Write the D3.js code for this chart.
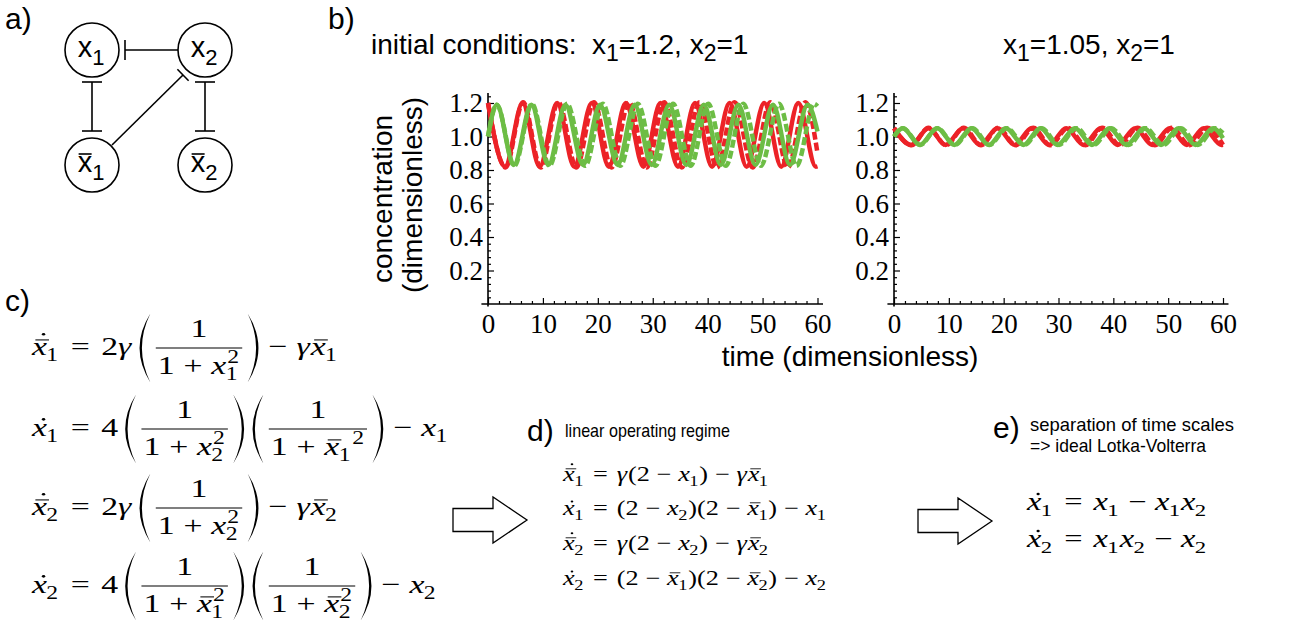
<!DOCTYPE html>
<html>
<head>
<meta charset="utf-8">
<script src="https://cdn.jsdelivr.net/npm/d3@7"></script>
<style>body{margin:0;background:#fff}</style>
</head>
<body>
<svg id="fig" width="1290" height="622"></svg>
<script>
// ---- values ----
var timeTicks = [0, 10, 20, 30, 40, 50, 60];
var concTicks = [0.2, 0.4, 0.6, 0.8, 1.0, 1.2];

// left panel, x1=1.2, x2=1 : extrema of each trace [time, concentration]
var redA = [[0,1.2],[3.1,0.82],[6.3,1.2],[9.4,0.82],[12.6,1.2],[15.7,0.82],[18.9,1.2],[22.0,0.82],[25.1,1.2],[28.3,0.82],[31.4,1.2],[34.6,0.82],[37.7,1.2],[40.8,0.82],[44.0,1.2],[47.1,0.82],[50.3,1.2],[53.4,0.82],[56.5,1.2],[59.7,0.82],[60,0.822]];
var redDashA = [[0,1.2],[3.2,0.815],[6.4,1.205],[9.6,0.815],[12.8,1.205],[16.1,0.815],[19.3,1.205],[22.5,0.815],[25.7,1.205],[28.9,0.815],[32.1,1.205],[35.3,0.815],[38.5,1.205],[41.7,0.815],[44.9,1.205],[48.2,0.815],[51.4,1.205],[54.6,0.815],[57.8,1.205],[60,0.9]];
var greenA = [[0,1.0],[1.6,1.19],[4.7,0.83],[7.9,1.19],[11.0,0.83],[14.1,1.19],[17.3,0.83],[20.4,1.19],[23.6,0.83],[26.7,1.19],[29.8,0.83],[33.0,1.19],[36.1,0.83],[39.3,1.19],[42.4,0.83],[45.6,1.19],[48.7,0.83],[51.9,1.19],[55.0,0.83],[58.2,1.19],[60,1.03]];
var greenDashA = [[0,1.0],[1.6,1.19],[4.8,0.825],[8.0,1.195],[11.2,0.825],[14.4,1.195],[17.7,0.825],[20.9,1.195],[24.1,0.825],[27.3,1.195],[30.5,0.825],[33.7,1.195],[36.9,0.825],[40.1,1.195],[43.3,0.825],[46.5,1.195],[49.7,0.825],[53.0,1.195],[56.2,0.825],[59.4,1.195],[60,1.18]];

// right panel, x1=1.05, x2=1
var redB = [[0,1.05],[3.1,0.95],[6.3,1.05],[9.4,0.95],[12.6,1.05],[15.7,0.95],[18.9,1.05],[22.0,0.95],[25.1,1.05],[28.3,0.95],[31.4,1.05],[34.6,0.95],[37.7,1.05],[40.8,0.95],[44.0,1.05],[47.1,0.95],[50.3,1.05],[53.4,0.95],[56.5,1.05],[59.7,0.95],[60,0.951]];
var redDashB = [[0,1.05],[3.2,0.948],[6.3,1.052],[9.5,0.948],[12.7,1.052],[15.9,0.948],[19.0,1.052],[22.2,0.948],[25.4,1.052],[28.5,0.948],[31.7,1.052],[34.9,0.948],[38.0,1.052],[41.2,0.948],[44.4,1.052],[47.6,0.948],[50.7,1.052],[53.9,0.948],[57.1,1.052],[60,0.95]];
var greenB = [[0,1.0],[1.6,1.05],[4.7,0.95],[7.9,1.05],[11.0,0.95],[14.1,1.05],[17.3,0.95],[20.4,1.05],[23.6,0.95],[26.7,1.05],[29.8,0.95],[33.0,1.05],[36.1,0.95],[39.3,1.05],[42.4,0.95],[45.6,1.05],[48.7,0.95],[51.9,1.05],[55.0,0.95],[58.2,1.05],[60,0.99]];
var greenDashB = [[0,1.0],[1.6,1.05],[4.8,0.95],[7.9,1.05],[11.1,0.95],[14.3,1.05],[17.4,0.95],[20.6,1.05],[23.8,0.95],[26.9,1.05],[30.1,0.95],[33.3,1.05],[36.4,0.95],[39.6,1.05],[42.8,0.95],[45.9,1.05],[49.1,0.95],[52.3,1.05],[55.4,0.95],[58.6,1.05],[60,1.02]];

var RED = "#ec2227", GREEN = "#6dbd45";
var SANS = "'Liberation Sans', Arial, Helvetica, sans-serif";
var MF = "'Liberation Serif', 'Times New Roman', serif";

var svg = d3.select("#fig");

// ---------- b) time courses ----------
function panel(x0, x1, traces) {
    var xs = d3.scaleLinear().domain([0, 60]).range([x0, x1]);
    var ys = d3.scaleLinear().domain([0, 1.2]).range([304, 103]);
    var g = svg.append("g");
    var minorT = d3.range(0, 61, 2).filter(d => d % 10 != 0);
    var minorC = d3.range(1, 32).filter(i => i % 5 != 0).map(i => i * 0.04);

    g.append("g").attr("transform", "translate(0,304)")
     .call(d3.axisBottom(xs).tickValues(minorT).tickSize(-3).tickFormat(""))
     .call(a => a.select(".domain").remove());
    g.append("g").attr("transform", "translate(0,304)")
     .call(d3.axisBottom(xs).tickValues(timeTicks).tickSize(-6).tickPadding(10).tickFormat(d3.format("d")))
     .call(a => a.select(".domain").remove())
     .attr("font-family", MF).attr("font-size", 27);
    g.append("g").attr("transform", "translate(" + x0 + ",0)")
     .call(d3.axisLeft(ys).tickValues(minorC).tickSize(-3).tickFormat(""))
     .call(a => a.select(".domain").remove());
    g.append("g").attr("transform", "translate(" + x0 + ",0)")
     .call(d3.axisLeft(ys).tickValues(concTicks).tickSize(-6).tickPadding(5).tickFormat(d3.format(".1f")))
     .call(a => a.select(".domain").remove())
     .attr("font-family", MF).attr("font-size", 27);
    g.selectAll(".tick line").attr("stroke-width", 1.2);

    g.append("line").attr("x1", xs(-1.2)).attr("x2", xs(61)).attr("y1", ys(0)).attr("y2", ys(0))
     .attr("stroke", "#000").attr("stroke-width", 1.6);
    g.append("line").attr("x1", x0).attr("x2", x0).attr("y1", ys(-0.015)).attr("y2", ys(1.26))
     .attr("stroke", "#000").attr("stroke-width", 1.6);

    var line = d3.line().x(d => xs(d[0])).y(d => ys(d[1])).curve(d3.curveMonotoneX);
    traces.forEach(function(t) {
        g.append("path").datum(t.data)
         .attr("fill", "none").attr("stroke", t.color).attr("stroke-width", 4.5)
         .attr("stroke-dasharray", t.dash ? "8,3" : null)
         .attr("d", line);
    });
}
panel(488, 817.5, [
    {data: redA, color: RED}, {data: redDashA, color: RED, dash: true},
    {data: greenA, color: GREEN}, {data: greenDashA, color: GREEN, dash: true}
]);
panel(894, 1223, [
    {data: redB, color: RED}, {data: redDashB, color: RED, dash: true},
    {data: greenB, color: GREEN}, {data: greenDashB, color: GREEN, dash: true}
]);

// axis titles
svg.append("text").attr("transform", "translate(392,199) rotate(-90)")
   .attr("text-anchor", "middle").attr("font-family", SANS).attr("font-size", 28).text("concentration");
svg.append("text").attr("transform", "translate(422,195) rotate(-90)")
   .attr("text-anchor", "middle").attr("font-family", SANS).attr("font-size", 28).text("(dimensionless)");
svg.append("text").attr("x", 850).attr("y", 366).attr("text-anchor", "middle")
   .attr("font-family", SANS).attr("font-size", 28).text("time (dimensionless)");

// titles with subscripts
function subTitle(x, y, parts) {
    var t = svg.append("text").attr("x", x).attr("y", y).attr("font-family", SANS).attr("font-size", 28)
               .attr("xml:space", "preserve");
    parts.forEach(function(p, i) {
        t.append("tspan").attr("dy", i == 0 ? 0 : (p[1] ? 7 : -7))
         .attr("font-size", p[1] ? 23 : 28).text(p[0]);
    });
}
subTitle(371, 54, [["initial conditions:  x", 0], ["1", 1], ["=1.2, x", 0], ["2", 1], ["=1", 0]]);
subTitle(1003, 54, [["x", 0], ["1", 1], ["=1.05, x", 0], ["2", 1], ["=1", 0]]);

// panel letters
function letter(s, x, y, fs) {
    svg.append("text").attr("x", x).attr("y", y).attr("font-family", SANS).attr("font-size", fs).text(s);
}
letter("a)", 5, 29, 30);
letter("b)", 328, 29, 30);
letter("c)", 5, 311, 30);
letter("d)", 527, 441, 30);
letter("e)", 993, 438, 30);

function note(s, x, y, len) {
    svg.append("text").attr("x", x).attr("y", y).attr("font-family", SANS).attr("font-size", 19)
       .attr("textLength", len).attr("lengthAdjust", "spacingAndGlyphs").text(s);
}
note("linear operating regime", 565, 437, 165);
note("separation of time scales", 1030, 431, 204);
note("=> ideal Lotka-Volterra", 1030, 452, 176);

// ---------- a) network ----------
var net = svg.append("g").attr("stroke", "#000").attr("stroke-width", 1.6).attr("fill", "none");
var nodes = [
    {cx: 92, cy: 50, sub: "1", bar: false}, {cx: 205, cy: 50, sub: "2", bar: false},
    {cx: 92, cy: 165, sub: "1", bar: true}, {cx: 205, cy: 165, sub: "2", bar: true}
];
nodes.forEach(function(n) {
    net.append("circle").attr("cx", n.cx).attr("cy", n.cy).attr("r", 27);
    var t = svg.append("text").attr("x", n.cx - 1).attr("y", n.cy + 7).attr("text-anchor", "middle")
               .attr("font-family", SANS).attr("font-size", 29);
    t.append("tspan").text("x");
    t.append("tspan").attr("font-size", 22).attr("dy", 8).text(n.sub);
    if (n.bar) {
        var w = t.node().getComputedTextLength();
        var sx = n.cx - 1 - w / 2;
        net.append("line").attr("x1", sx + 1).attr("x2", sx + 14).attr("y1", n.cy - 11).attr("y2", n.cy - 11);
    }
});
function inhib(xa, ya, xb, yb, both, half) {
    net.append("line").attr("x1", xa).attr("y1", ya).attr("x2", xb).attr("y2", yb);
    var dx = xb - xa, dy = yb - ya, L = Math.hypot(dx, dy), px = -dy / L * half, py = dx / L * half;
    net.append("line").attr("x1", xb + px).attr("y1", yb + py).attr("x2", xb - px).attr("y2", yb - py);
    if (both) net.append("line").attr("x1", xa + px).attr("y1", ya + py).attr("x2", xa - px).attr("y2", ya - py);
}
inhib(178, 50, 125, 50, false, 10);
inhib(92, 82, 92, 131, true, 10);
inhib(205, 82, 205, 131, true, 10);
inhib(112, 145, 183, 75, false, 8);

// ---------- equations (tiny typesetter) ----------
function put(g, s, x, y, fs, it) {
    var t = g.append("text").attr("x", x).attr("y", y).attr("font-family", MF)
             .attr("font-size", fs).attr("font-style", it ? "italic" : null).text(s);
    return t.node().getComputedTextLength();
}
function row(g, items, fs) {
    var x = 0;
    items.forEach(function(tok) {
        var gg = g.append("g").attr("transform", "translate(" + x + ",0)");
        x += tok(gg, fs);
    });
    return x;
}
function N(s) { return function(g, fs) { return put(g, s, 0, 0, fs, false); }; }
function Op(s) { return function(g, fs) { var sp = (s == "=" ? 0.34 : 0.26) * fs; return put(g, s, sp, 0, fs, false) + 2 * sp; }; }
function Sp(k) { return function(g, fs) { return k * fs; }; }
function V(name, o) {
    o = o || {};
    return function(g, fs) {
        var w = put(g, name, 0, 0, fs, true), end = w;
        if (o.bar) g.append("line").attr("x1", 0.1 * fs).attr("x2", w + 0.06 * fs)
                    .attr("y1", -0.58 * fs).attr("y2", -0.58 * fs).attr("stroke", "#000").attr("stroke-width", 0.04 * fs);
        if (o.dot) g.append("circle").attr("cx", w / 2 + 0.12 * fs).attr("cy", o.bar ? -0.8 * fs : -0.64 * fs).attr("r", 0.05 * fs);
        if (o.sub) end = w - 0.02 * fs + put(g, o.sub, w - 0.02 * fs, 0.22 * fs, 0.7 * fs, false);
        if (o.sup) {
            var sx = o.after ? end + 0.05 * fs : w + 0.03 * fs;
            end = Math.max(end, sx + put(g, o.sup, sx, -0.42 * fs, 0.7 * fs, false));
        }
        return end + 0.03 * fs;
    };
}
function Fr(num, den) {
    return function(g, fs) {
        var gn = g.append("g"), gd = g.append("g");
        var wn = row(gn, num, fs), wd = row(gd, den, fs);
        var w = Math.max(wn, wd) + 0.24 * fs, ax = -0.27 * fs;
        gn.attr("transform", "translate(" + (w - wn) / 2 + "," + (ax - 0.42 * fs) + ")");
        gd.attr("transform", "translate(" + (w - wd) / 2 + "," + (ax + 1.0 * fs) + ")");
        g.append("line").attr("x1", 0.06 * fs).attr("x2", w - 0.06 * fs).attr("y1", ax).attr("y2", ax)
         .attr("stroke", "#000").attr("stroke-width", 0.045 * fs);
        return w;
    };
}
function parenPath(x0, cy, w, H, th, right) {
    var top = cy - H / 2, bot = cy + H / 2, xe, xm, xi;
    if (!right) { xe = x0 + w * 0.9; xm = x0 + w * 0.1; xi = xm + th; }
    else { xe = x0 + w * 0.1; xm = x0 + w * 0.9; xi = xm - th; }
    return "M" + xe + "," + top + " Q" + (2 * xm - xe) + "," + cy + " " + xe + "," + bot +
           " Q" + (2 * xi - xe) + "," + cy + " " + xe + "," + top + "Z";
}
function Pa(items) {
    return function(g, fs) {
        var pw = 0.4 * fs, H = 2.65 * fs, ax = -0.27 * fs, gap = 0.06 * fs;
        var gi = g.append("g").attr("transform", "translate(" + (pw + gap) + ",0)");
        var wi = row(gi, items, fs);
        g.append("path").attr("d", parenPath(0, ax, pw, H, 0.07 * fs, false));
        g.append("path").attr("d", parenPath(pw + 2 * gap + wi, ax, pw, H, 0.07 * fs, true));
        return 2 * pw + 2 * gap + wi;
    };
}
function eq(x, y, fs, sx, items) {
    var g = svg.append("g").attr("transform", "translate(" + x + "," + y + ") scale(" + sx + ",1)");
    row(g, items, fs);
}
function one() { return [N("1")]; }

// c) full model
var FC = 26, SC = 1.3;
eq(32, 355, FC, SC, [V("x", {sub: "1", bar: 1, dot: 1}), Op("="), N("2"), V("γ"), Sp(0.17),
    Pa([Fr(one(), [N("1"), Op("+"), V("x", {sub: "1", sup: "2"})])]), Op("−"), V("γ"), V("x", {sub: "1", bar: 1})]);
eq(32, 436, FC, SC, [V("x", {sub: "1", dot: 1}), Op("="), N("4"), Sp(0.17),
    Pa([Fr(one(), [N("1"), Op("+"), V("x", {sub: "2", sup: "2"})])]), Sp(0.17),
    Pa([Fr(one(), [N("1"), Op("+"), V("x", {sub: "1", bar: 1, sup: "2", after: 1})])]), Op("−"), V("x", {sub: "1"})]);
eq(32, 515, FC, SC, [V("x", {sub: "2", bar: 1, dot: 1}), Op("="), N("2"), V("γ"), Sp(0.17),
    Pa([Fr(one(), [N("1"), Op("+"), V("x", {sub: "2", sup: "2"})])]), Op("−"), V("γ"), V("x", {sub: "2", bar: 1})]);
eq(32, 593, FC, SC, [V("x", {sub: "2", dot: 1}), Op("="), N("4"), Sp(0.17),
    Pa([Fr(one(), [N("1"), Op("+"), V("x", {sub: "1", bar: 1, sup: "2"})])]), Sp(0.17),
    Pa([Fr(one(), [N("1"), Op("+"), V("x", {sub: "2", bar: 1, sup: "2"})])]), Op("−"), V("x", {sub: "2"})]);

// d) linear regime
var FD = 21, SD = 1.25;
eq(563, 481, FD, SD, [V("x", {sub: "1", bar: 1, dot: 1}), Op("="), V("γ"), N("(2"), Op("−"), V("x", {sub: "1"}), N(")"),
    Op("−"), V("γ"), V("x", {sub: "1", bar: 1})]);
eq(563, 515, FD, SD, [V("x", {sub: "1", dot: 1}), Op("="), N("(2"), Op("−"), V("x", {sub: "2"}), N(")(2"), Op("−"),
    V("x", {sub: "1", bar: 1}), N(")"), Op("−"), V("x", {sub: "1"})]);
eq(563, 550, FD, SD, [V("x", {sub: "2", bar: 1, dot: 1}), Op("="), V("γ"), N("(2"), Op("−"), V("x", {sub: "2"}), N(")"),
    Op("−"), V("γ"), V("x", {sub: "2", bar: 1})]);
eq(563, 585, FD, SD, [V("x", {sub: "2", dot: 1}), Op("="), N("(2"), Op("−"), V("x", {sub: "1", bar: 1}), N(")(2"), Op("−"),
    V("x", {sub: "2", bar: 1}), N(")"), Op("−"), V("x", {sub: "2"})]);

// e) Lotka-Volterra
var FE = 25, SE = 1.3;
eq(1027, 510, FE, SE, [V("x", {sub: "1", dot: 1}), Op("="), V("x", {sub: "1"}), Op("−"), V("x", {sub: "1"}), V("x", {sub: "2"})]);
eq(1027, 547, FE, SE, [V("x", {sub: "2", dot: 1}), Op("="), V("x", {sub: "1"}), V("x", {sub: "2"}), Op("−"), V("x", {sub: "2"})]);

// block arrows
function blockArrow(x, y) {
    var pts = [[0, -11.5], [40, -11.5], [40, -23], [74, 0], [40, 23], [40, 11.5], [0, 11.5]];
    svg.append("polygon").attr("points", pts.map(p => (x + p[0]) + "," + (y + p[1])).join(" "))
       .attr("fill", "#fff").attr("stroke", "#000").attr("stroke-width", 1.3);
}
blockArrow(453, 520);
blockArrow(918, 521);
</script>
</body>
</html>
